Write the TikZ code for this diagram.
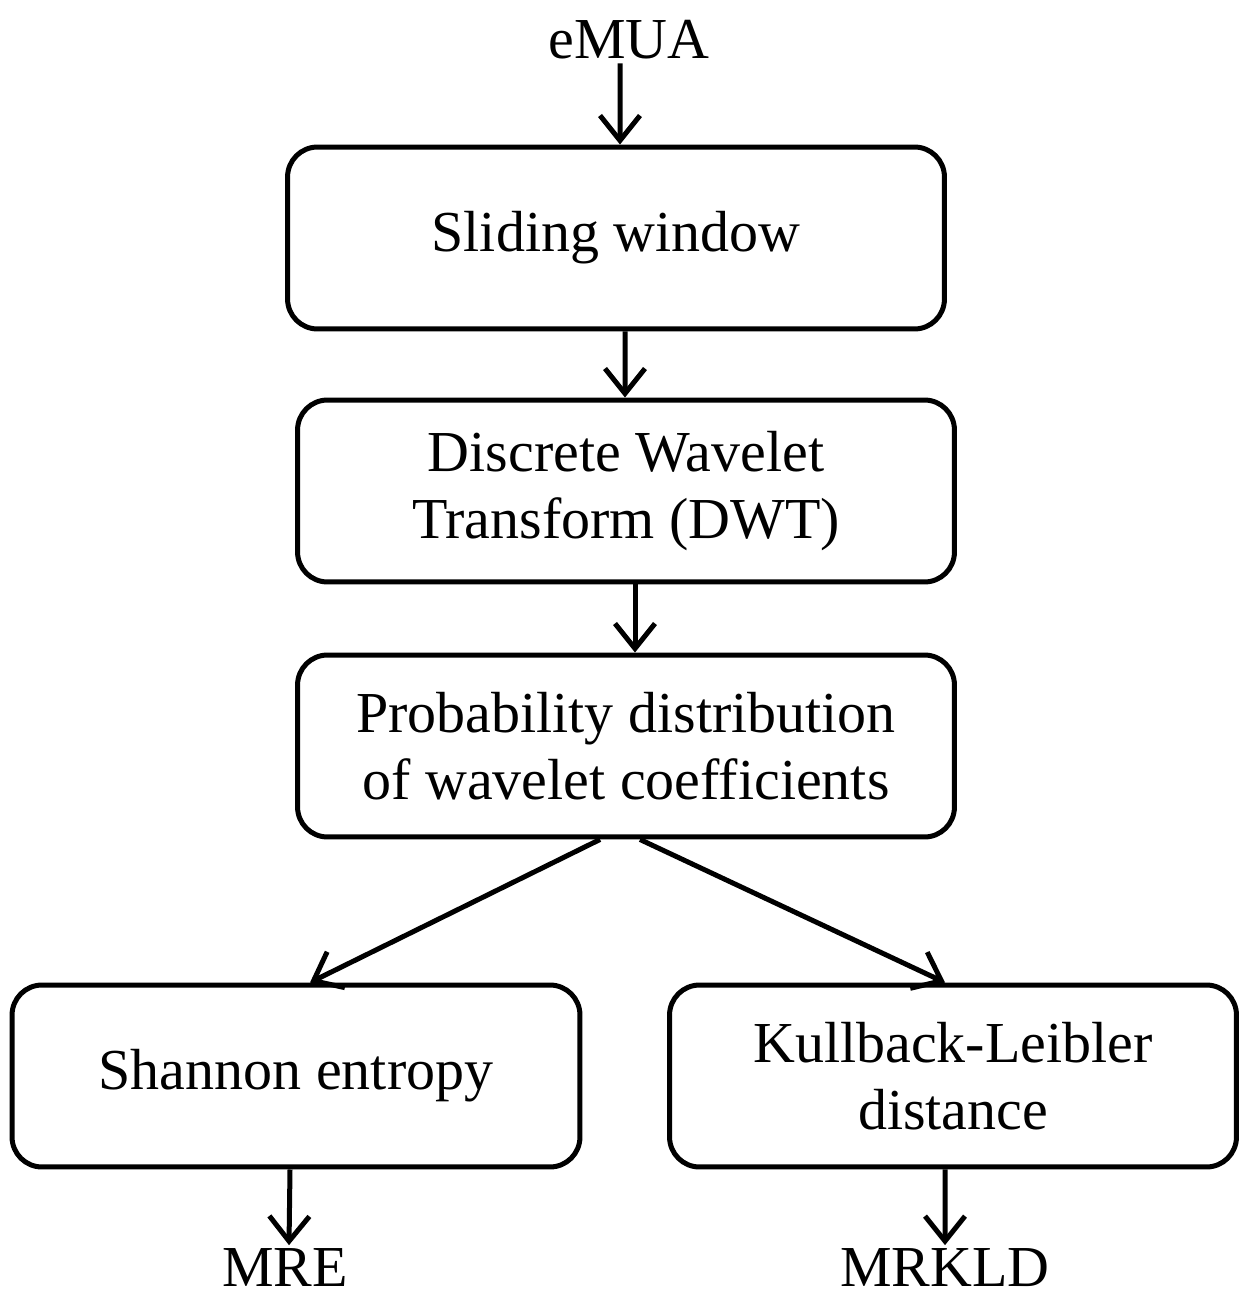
\documentclass[tikz,border=0pt]{standalone}
\usepackage{fontspec}
\setmainfont{Liberation Serif}
\usetikzlibrary{arrows.meta}

\begin{document}
\begin{tikzpicture}[x=0.02cm, y=-0.02cm, >={Straight Barb[length=0.5cm, width=0.8cm]},
    box/.style={draw, line width=0.1cm, rounded corners=0.6cm, align=center, minimum height=3.64cm,
        font=\fontsize{33}{38}\selectfont},
    lbl/.style={font=\fontsize{33}{38}\selectfont, inner sep=2pt}]
    \useasboundingbox (0,0) rectangle (1245,1300);

    \node [lbl] (emua) at (629, 40) {eMUA};
    \node [box, minimum width=13.14cm] (slide) at (616, 238) {Sliding window};
    \node [box, minimum width=13.14cm] (dwt) at (626, 491) {Discrete Wavelet\\Transform (DWT)};
    \node [box, minimum width=13.14cm] (prob) at (626, 746) {Probability distribution\\of wavelet coefficients};
    \node [box, minimum width=11.36cm] (shannon) at (296, 1076) {Shannon entropy};
    \node [box, minimum width=11.34cm] (kl) at (953, 1076) {Kullback-Leibler\\distance};
    \node [lbl] (mre) at (285, 1268) {MRE};
    \node [lbl] (mrkld) at (945, 1268) {MRKLD};

    \draw [->, line width=0.1cm] ([xshift=-0.18cm]emua.south) -- ([xshift=0.08cm]slide.north);
    \draw [->, line width=0.1cm] ([xshift=0.18cm]slide.south) -- ([xshift=-0.02cm]dwt.north);
    \draw [->, line width=0.1cm] ([xshift=0.18cm]dwt.south) -- ([xshift=0.18cm]prob.north);
    \draw [->, line width=0.1cm] ([xshift=-0.52cm]prob.south) -- ([xshift=0.28cm]shannon.north);
    \draw [->, line width=0.1cm] ([xshift=0.28cm]prob.south) -- ([xshift=-0.16cm]kl.north);
    \draw [->, line width=0.1cm] ([xshift=-0.12cm]shannon.south) -- ([xshift=0.08cm]mre.north);
    \draw [->, line width=0.1cm] ([xshift=-0.16cm]kl.south) -- (mrkld.north);
\end{tikzpicture}
\end{document}
